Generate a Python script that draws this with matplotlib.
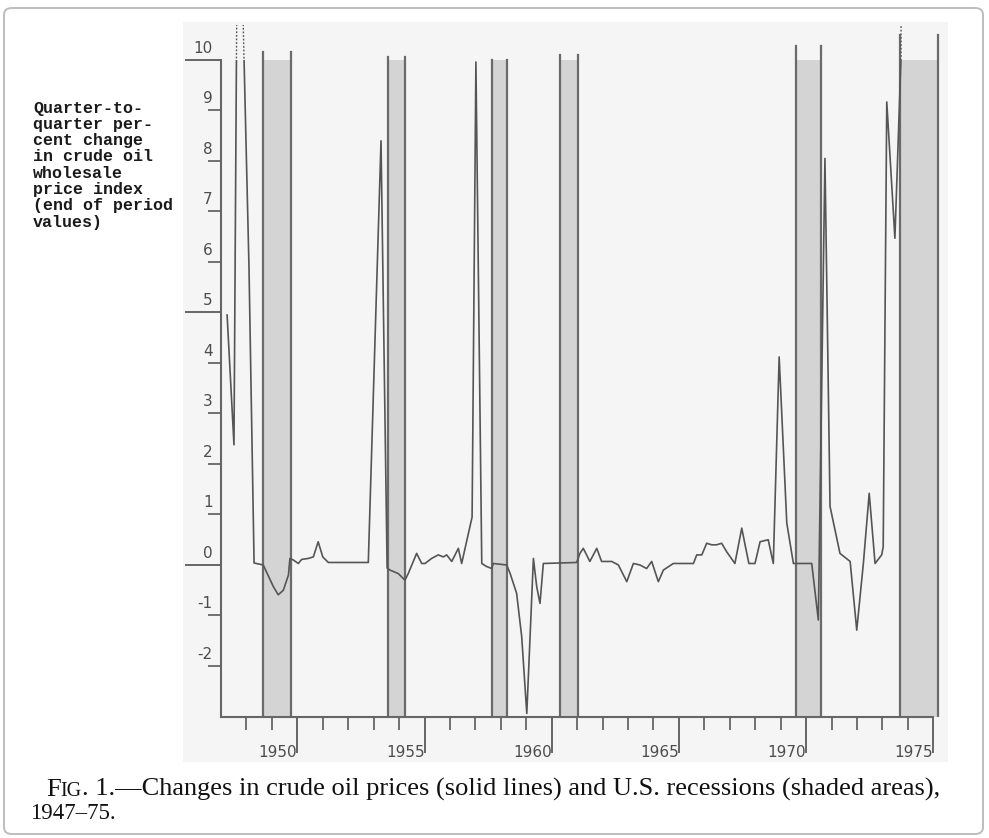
import matplotlib
matplotlib.use("Agg")
import matplotlib.pyplot as plt
from matplotlib.patches import Rectangle, FancyBboxPatch

# quarter-to-quarter % change of the crude oil wholesale price index
years = [1947.24, 1947.51, 1947.67, 1948.10, 1948.30, 1948.66, 1949.06, 1949.25, 1949.45,
         1949.65, 1949.71, 1949.84, 1950.04, 1950.17, 1950.43, 1950.63, 1950.82, 1951.00,
         1951.22, 1952.79, 1953.29, 1953.53, 1953.64, 1953.97, 1954.23, 1954.36, 1954.50,
         1954.69, 1954.89, 1955.02, 1955.28, 1955.54, 1955.74, 1955.87, 1956.07, 1956.33,
         1956.46, 1956.87, 1957.02, 1957.25, 1957.44, 1957.64, 1957.70, 1958.23, 1958.36,
         1958.49, 1958.62, 1958.82, 1959.02, 1959.28, 1959.41, 1959.54, 1959.67, 1960.98,
         1961.11, 1961.24, 1961.50, 1961.77, 1961.96, 1962.36, 1962.62, 1962.95, 1963.21,
         1963.47, 1963.73, 1963.93, 1964.19, 1964.39, 1964.78, 1965.57, 1965.70, 1965.90,
         1966.09, 1966.29, 1966.48, 1966.68, 1966.88, 1967.20, 1967.47, 1967.60, 1967.75,
         1967.99, 1968.19, 1968.51, 1968.71, 1968.94, 1969.24, 1969.50, 1970.22, 1970.48,
         1970.74, 1970.94, 1971.33, 1971.73, 1971.99, 1972.25, 1972.48, 1972.71, 1972.97,
         1973.03, 1973.17, 1973.49, 1973.73, 1973.77]
pct_change = [4.95, 2.38, 15.0, 5.9, 0.04, 0.0, -0.43, -0.59, -0.50,
              -0.20, 0.13, 0.10, 0.03, 0.11, 0.13, 0.16, 0.46, 0.16,
              0.05, 0.05, 8.40, -0.06, -0.10, -0.17, -0.30, -0.17, 0.0,
              0.23, 0.03, 0.03, 0.13, 0.20, 0.16, 0.20, 0.07, 0.33,
              0.03, 0.95, 9.96, 0.03, -0.03, -0.07, 0.03, 0.0, -0.16,
              -0.36, -0.56, -1.42, -2.94, 0.13, -0.43, -0.76, 0.03, 0.05,
              0.23, 0.33, 0.07, 0.33, 0.07, 0.07, 0.0, -0.33, 0.03,
              0.0, -0.07, 0.07, -0.33, -0.10, 0.03, 0.03, 0.20, 0.20,
              0.43, 0.40, 0.40, 0.43, 0.26, 0.03, 0.73, 0.40, 0.03,
              0.03, 0.46, 0.50, 0.03, 4.12, 0.83, 0.03, 0.03, -1.09,
              8.05, 1.16, 0.23, 0.07, -1.29, 0.03, 1.42, 0.03, 0.20,
              0.36, 9.17, 6.47, 10.05, 30.0]

# U.S. recessions (shaded areas)
rec_start = [1948.65, 1953.56, 1957.65, 1960.31, 1969.62, 1973.70]
rec_end = [1949.75, 1954.23, 1958.24, 1961.03, 1970.60, 1975.18]
rec_edge_top = [10.15, 10.06, 10.0, 10.1, 10.28, 10.5]

year_ticks = list(range(1948, 1976))
year_labels = [1950, 1955, 1960, 1965, 1970, 1975]
pct_ticks = list(range(-2, 11))
pct_major = [0, 5, 10]

ylabel_lines = ["Quarter-to-", "quarter per-", "cent change", "in crude oil",
                "wholesale", "price index", "(end of period", "values)"]
caption_1 = ". 1.\u2014Changes in crude oil prices (solid lines) and U.S. recessions (shaded areas),"
caption_2 = "1947\u201375."

W, H = 989, 838
GREY = "#666666"
LINE = "#555555"


def main():
    fig = plt.figure(figsize=(W / 100, H / 100), dpi=100)
    fig.patch.set_facecolor("white")

    # faint tint of the scanned page
    fig.patches.append(Rectangle((183 / W, 1 - 762 / H), (948 - 183) / W, (762 - 22) / H,
                                 transform=fig.transFigure, facecolor="#f5f5f5",
                                 edgecolor="none", zorder=-10))
    # frame round the screenshot
    fig.patches.append(FancyBboxPatch((4 / W, 4 / H), (W - 10) / W, (H - 12) / H,
                                      boxstyle="round,pad=0,rounding_size=0.008",
                                      transform=fig.transFigure, fill=False,
                                      edgecolor="#bdbdbd", lw=1.4, zorder=-10))

    ax = fig.add_axes([221 / W, 1 - 717 / H, (945 - 221) / W, (717 - 20) / H])
    ax.set_zorder(5)
    ax.patch.set_alpha(0)
    ybot = -3.01
    ax.set_xlim(1947, 1947 + (945 - 221) / 25.44)
    ax.set_ylim(ybot, (565 - 20) / 50.5)

    # recession bands
    for s, e, top in zip(rec_start, rec_end, rec_edge_top):
        ax.fill_between([s, e], ybot, 10, color="#d4d4d4", lw=0, zorder=1)
        ax.plot([s, s], [ybot, top], color="#6a6a6a", lw=1.6, zorder=2)
        ax.plot([e, e], [ybot, top], color="#6a6a6a", lw=1.6, zorder=2)

    # price change line, solid up to 10, dotted where it runs off the scale
    line, = ax.plot(years, pct_change, color=LINE, lw=1.2, zorder=3)
    line.set_clip_path(Rectangle((1946, ybot), 40, 10 - ybot, transform=ax.transData))
    dots, = ax.plot(years, pct_change, color=LINE, lw=1.0, ls=(0, (1.3, 1.3)), zorder=3)
    dots.set_clip_path(Rectangle((1946, 10), 40, 0.7, transform=ax.transData))

    for side in ["top", "right"]:
        ax.spines[side].set_visible(False)
    ax.spines["left"].set_bounds(ybot, 10)
    ax.spines["bottom"].set_bounds(1947, 1975)
    for side in ["left", "bottom"]:
        ax.spines[side].set_color(GREY)
        ax.spines[side].set_linewidth(1.5)

    ax.set_xticks(year_labels)
    ax.set_xticks([y for y in year_ticks if y not in year_labels], minor=True)
    ax.set_xticklabels([str(y) for y in year_labels])
    ax.tick_params(axis="x", which="major", length=26, width=1.4, color=GREY, pad=-6,
                   labelsize=11, labelcolor="#4d4d4d")
    ax.tick_params(axis="x", which="minor", length=9.4, width=1.3, color=GREY)
    for lbl in ax.get_xticklabels():
        lbl.set_horizontalalignment("right")

    ax.set_yticks(pct_major)
    ax.set_yticks([v for v in pct_ticks if v not in pct_major], minor=True)
    ax.tick_params(axis="y", which="major", length=26, width=1.4, color=GREY, labelleft=False)
    ax.tick_params(axis="y", which="minor", length=9.4, width=1.3, color=GREY)
    for v in pct_ticks:
        ax.annotate(str(v), xy=(0, v), xycoords=("axes fraction", "data"),
                    xytext=(-6, 3), textcoords="offset points", ha="right", va="bottom",
                    fontsize=11, color="#4d4d4d")

    # typewritten axis note on the left
    for i, txt in enumerate(ylabel_lines):
        fig.text(33 / W, 1 - (108 + i * 16.3) / H, txt, family="Liberation Mono",
                 weight="bold", fontsize=12, color="#1a1a1a", va="center", ha="left")

    # caption, "FIG" in small capitals
    t1 = fig.text(46 / W, 1 - 796 / H, "F", family="Liberation Serif", fontsize=19,
                  color="#111111", va="baseline")
    t2 = ax.annotate("IG", xy=(1, 0), xycoords=t1, va="bottom", ha="left",
                     family="Liberation Serif", fontsize=14.5, color="#111111",
                     annotation_clip=False)
    ax.annotate(caption_1, xy=(1, 0), xycoords=t2, va="bottom", ha="left",
                family="Liberation Serif", fontsize=19, color="#111111",
                annotation_clip=False)
    fig.text(30 / W, 1 - 819 / H, caption_2, family="Liberation Serif", fontsize=16.5,
             color="#111111", va="baseline")

    fig.savefig("out.png", dpi=100)
    plt.close(fig)


if __name__ == "__main__":
    main()
